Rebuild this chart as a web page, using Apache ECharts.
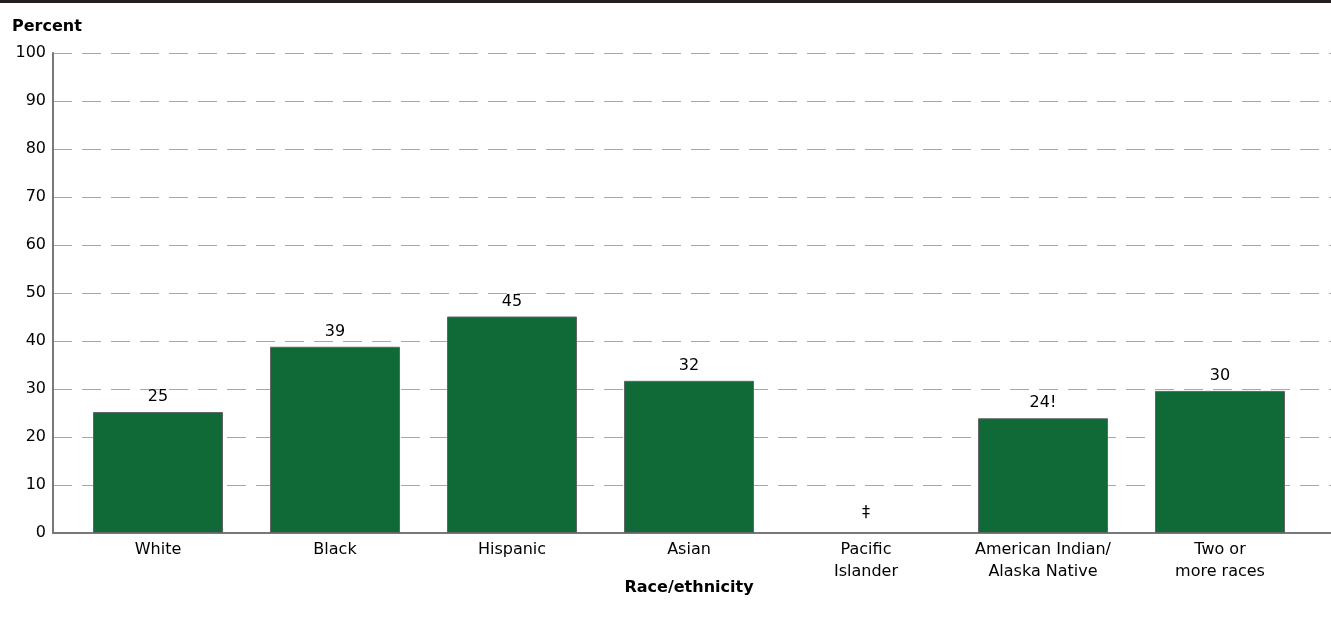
<!DOCTYPE html>
<html>
<head>
<meta charset="utf-8">
<script src="https://cdn.jsdelivr.net/npm/echarts@6/dist/echarts.min.js"></script>
<style>
html,body{margin:0;padding:0;background:#fff;}
#chart{width:1331px;height:628px;}
</style>
</head>
<body>
<div id="chart"></div>
<script>
var categories = ['White', 'Black', 'Hispanic', 'Asian', 'Pacific\nIslander', 'American Indian/\nAlaska Native', 'Two or\nmore races'];
var values = [25.2, 38.8, 45.1, 31.7, 0, 23.9, 29.6];
var valueLabels = ['25', '39', '45', '32', '‡', '24!', '30'];
var yTicks = [0, 10, 20, 30, 40, 50, 60, 70, 80, 90, 100];
var xTitle = 'Race/ethnicity';
var yTitle = 'Percent';

var FONT = '"DejaVu Sans", sans-serif';
var chart = echarts.init(document.getElementById('chart'), null, {renderer: 'canvas'});

var barData = values.map(function (v, i) {
  var item = {value: v};
  if (valueLabels[i] === '‡') {
    item.itemStyle = {borderWidth: 0, color: 'rgba(0,0,0,0)', borderColor: 'rgba(0,0,0,0)'};
    item.label = {distance: 12};
  }
  return item;
});

chart.setOption({
  animation: false,
  backgroundColor: '#ffffff',
  graphic: [
    {type: 'rect', left: 0, top: 0, shape: {width: 1331, height: 3}, style: {fill: '#231f20'}},
    {type: 'text', left: 12, top: 19, style: {text: yTitle, font: 'bold 16px ' + FONT, fill: '#000'}},
    {type: 'text', x: 689, y: 580, style: {text: xTitle, font: 'bold 16px ' + FONT, fill: '#000', align: 'center', verticalAlign: 'top'}}
  ],
  grid: [
    {left: 53, right: 0, top: 53, bottom: 95},
    {left: 69.5, right: 22.5, top: 53, bottom: 95}
  ],
  xAxis: [
    {
      gridIndex: 0, type: 'value', min: 0, max: 1,
      axisLine: {show: true, lineStyle: {color: '#77787b', width: 2}},
      axisTick: {show: false}, axisLabel: {show: false}, splitLine: {show: false}
    },
    {
      gridIndex: 1, type: 'category', data: categories,
      axisLine: {show: false}, axisTick: {show: false},
      axisLabel: {color: '#000', fontSize: 16, fontFamily: FONT, lineHeight: 22, margin: 6, interval: 0}
    }
  ],
  yAxis: [
    {
      gridIndex: 0, type: 'value', min: 0, max: 100, interval: 10,
      axisLine: {show: true, lineStyle: {color: '#77787b', width: 2}},
      axisTick: {show: false},
      axisLabel: {color: '#000', fontSize: 16, fontFamily: FONT, margin: 7,
        formatter: function (v) { return yTicks.indexOf(v) >= 0 ? String(v) : ''; }},
      splitLine: {show: true, lineStyle: {color: '#a7a9ac', width: 1, type: [19, 10]}}
    },
    {
      gridIndex: 1, type: 'value', min: 0, max: 100, interval: 10,
      axisLine: {show: false}, axisTick: {show: false}, axisLabel: {show: false}, splitLine: {show: false}
    }
  ],
  series: [{
    type: 'bar',
    xAxisIndex: 1, yAxisIndex: 1,
    data: barData,
    barWidth: 130,
    itemStyle: {color: '#0f6a38', borderColor: '#636466', borderWidth: 1},
    label: {
      show: true, position: 'top', distance: 7,
      color: '#000', fontSize: 16, fontFamily: FONT,
      formatter: function (p) { return valueLabels[p.dataIndex]; }
    }
  }]
});
</script>
</body>
</html>
